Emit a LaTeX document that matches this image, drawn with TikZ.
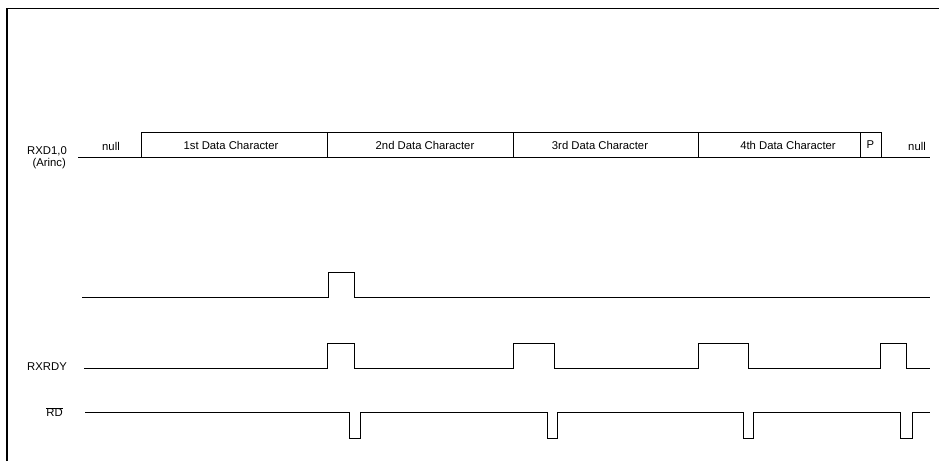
\documentclass[tikz,border=0pt]{standalone}
\usepackage{fontspec}
\setmainfont{Liberation Sans}
\begin{document}
\begin{tikzpicture}[x=1pt,y=-1pt,
  sig/.style={line width=1pt, line join=miter},
  frame/.style={line width=1.5pt},
  lbl/.style={font=\fontsize{11.3}{13}\selectfont, inner sep=0pt},
  boxtxt/.style={font=\fontsize{11.3}{13}\selectfont, inner sep=0pt}]
\useasboundingbox (0,0) rectangle (939,461);
% frame
\draw[frame] (7,461) -- (7,8.5) -- (939,8.5);
% RXD line
\draw[sig] (78,157) -- (930,157);
\draw[sig] (141,157) -- (141,132) -- (881,132) -- (881,157);
\foreach \x in {327,513,698,860} \draw[sig] (\x,132) -- (\x,157);
\node[boxtxt] (n1) at (111,146) {null};
\node[boxtxt] (c1) at (231,145) {1st Data Character};
\node[boxtxt] (c2) at (425,145) {2nd Data Character};
\node[boxtxt] (c3) at (600,145) {3rd Data Character};
\node[boxtxt] (c4) at (788,145) {4th Data Character};
\node[boxtxt] (p) at (870.5,145) {P};
\node[boxtxt] (n2) at (917,146) {null};
\node[lbl, anchor=east] (rxd) at (67,151) {RXD1,0};
\node[lbl, anchor=east] (arinc) at (66,164) {(Arinc)};
% signal 2
\draw[sig] (82,297) -- (328,297) -- (328,272) -- (354,272) -- (354,297) -- (930,297);
% RXRDY
\node[lbl, anchor=east] (rxrdy) at (67,367) {RXRDY};
\draw[sig] (84,368) -- (327,368) -- (327,343) -- (354,343) -- (354,368)
  -- (513,368) -- (513,343) -- (554,343) -- (554,368)
  -- (698,368) -- (698,343) -- (748,343) -- (748,368)
  -- (880,368) -- (880,343) -- (906,343) -- (906,368) -- (930,368);
% RD
\node[lbl, anchor=east] (rd) at (63,412) {$\overline{\mbox{RD}}$};
\draw[sig] (85,412) -- (349,412) -- (349,438) -- (360,438) -- (360,412)
  -- (547,412) -- (547,438) -- (557,438) -- (557,412)
  -- (743,412) -- (743,438) -- (753,438) -- (753,412)
  -- (900,412) -- (900,438) -- (912,438) -- (912,412) -- (930,412);
\end{tikzpicture}
\end{document}
